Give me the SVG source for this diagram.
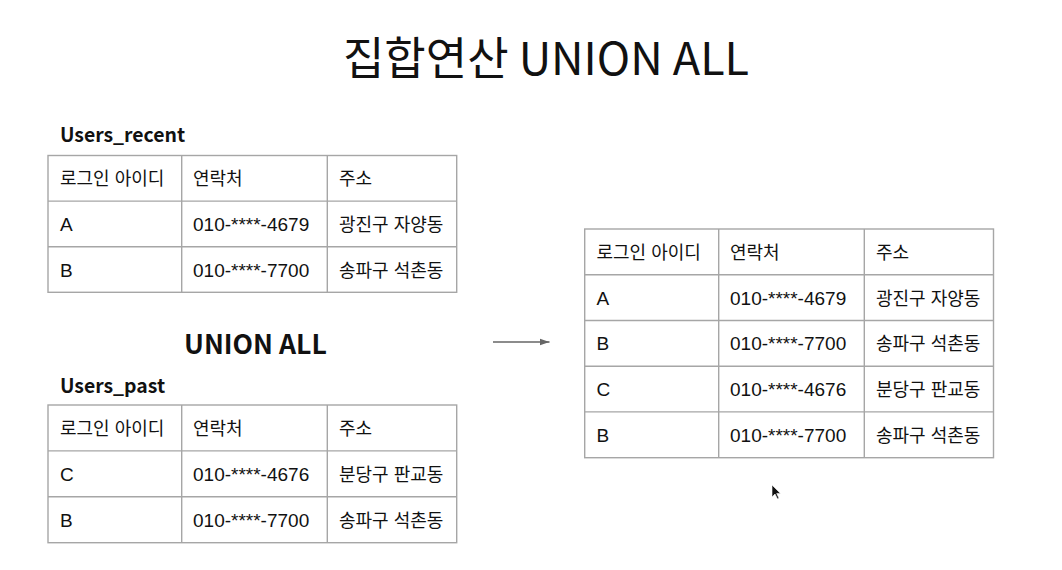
<svg xmlns="http://www.w3.org/2000/svg" width="1062" height="570" viewBox="0 0 1062 570">
<defs>
<style>
.cell{fill:#fff;stroke:#a6a6a6;stroke-width:1.4}
.grid{stroke:#a6a6a6;stroke-width:1.4;fill:none}
.t{font-family:"Liberation Sans","Noto Sans CJK KR",sans-serif;font-size:18px;fill:#111}
.n{font-family:"Liberation Sans","Noto Sans CJK KR",sans-serif;font-size:19px;fill:#111}
.cap{font-family:"Noto Sans CJK KR","Noto Sans",sans-serif;font-weight:bold;font-size:19.4px;fill:#111}
.title{font-family:"Noto Sans CJK KR","Noto Sans",sans-serif;font-size:45px;fill:#111}
.op{font-family:"Noto Sans CJK KR","Noto Sans",sans-serif;font-weight:bold;font-size:26.6px;fill:#111}
</style>
<marker id="ah" viewBox="0 0 10 10" refX="10" refY="5" markerWidth="10" markerHeight="10" markerUnits="userSpaceOnUse" orient="auto">
<path d="M0,1.5 L10,5 L0,8.5 Z" fill="#666"/>
</marker>
</defs>
<rect width="1062" height="570" fill="#fff"/>

<g id="title">
<text class="title" x="546" y="75" text-anchor="middle">집합연산 UNION ALL</text>
</g>

<g id="users_recent">
<text class="cap" x="60" y="142">Users_recent</text>
<rect class="cell" x="48" y="155.5" width="408.7" height="136.8"/>
<path class="grid" d="M48,201.1H456.7M48,246.7H456.7M181.7,155.5V292.3M327.3,155.5V292.3"/>
<text class="t" x="60" y="185.3">로그인 아이디</text>
<text class="t" x="193" y="185.3">연락처</text>
<text class="t" x="339" y="185.3">주소</text>
<text class="n" x="60" y="230.9">A</text>
<text class="n" x="193" y="230.9">010-****-4679</text>
<text class="t" x="339" y="230.9">광진구 자양동</text>
<text class="n" x="60" y="276.5">B</text>
<text class="n" x="193" y="276.5">010-****-7700</text>
<text class="t" x="339" y="276.5">송파구 석촌동</text>
</g>

<g id="union_all_label">
<text class="op" x="184" y="354">UNION ALL</text>
</g>

<g id="users_past">
<text class="cap" x="60" y="393">Users_past</text>
<rect class="cell" x="48" y="405" width="408.7" height="137.7"/>
<path class="grid" d="M48,450.9H456.7M48,496.8H456.7M181.7,405V542.7M327.3,405V542.7"/>
<text class="t" x="60" y="435">로그인 아이디</text>
<text class="t" x="193" y="435">연락처</text>
<text class="t" x="339" y="435">주소</text>
<text class="n" x="60" y="480.9">C</text>
<text class="n" x="193" y="480.9">010-****-4676</text>
<text class="t" x="339" y="480.9">분당구 판교동</text>
<text class="n" x="60" y="526.8">B</text>
<text class="n" x="193" y="526.8">010-****-7700</text>
<text class="t" x="339" y="526.8">송파구 석촌동</text>
</g>

<g id="result">
<rect class="cell" x="584.7" y="229" width="408.8" height="228.7"/>
<path class="grid" d="M584.7,274.7H993.5M584.7,320.5H993.5M584.7,366.2H993.5M584.7,411.9H993.5M718.7,229V457.7M864.3,229V457.7"/>
<text class="t" x="596.5" y="258.9">로그인 아이디</text>
<text class="t" x="730" y="258.9">연락처</text>
<text class="t" x="876" y="258.9">주소</text>
<text class="n" x="596.5" y="304.6">A</text>
<text class="n" x="730" y="304.6">010-****-4679</text>
<text class="t" x="876" y="304.6">광진구 자양동</text>
<text class="n" x="596.5" y="350.4">B</text>
<text class="n" x="730" y="350.4">010-****-7700</text>
<text class="t" x="876" y="350.4">송파구 석촌동</text>
<text class="n" x="596.5" y="396">C</text>
<text class="n" x="730" y="396">010-****-4676</text>
<text class="t" x="876" y="396">분당구 판교동</text>
<text class="n" x="596.5" y="441.8">B</text>
<text class="n" x="730" y="441.8">010-****-7700</text>
<text class="t" x="876" y="441.8">송파구 석촌동</text>
</g>

<g id="connectors">
<line x1="493" y1="342" x2="549.5" y2="342" stroke="#666" stroke-width="1.4" marker-end="url(#ah)"/>
</g>

<g id="cursor">
<path d="M772,485 L772,497 L775,494 L777.5,499 L779,498.3 L776.7,493.4 L780.5,493.4 Z" fill="#111" stroke="#fff" stroke-width="0.6"/>
</g>
</svg>
